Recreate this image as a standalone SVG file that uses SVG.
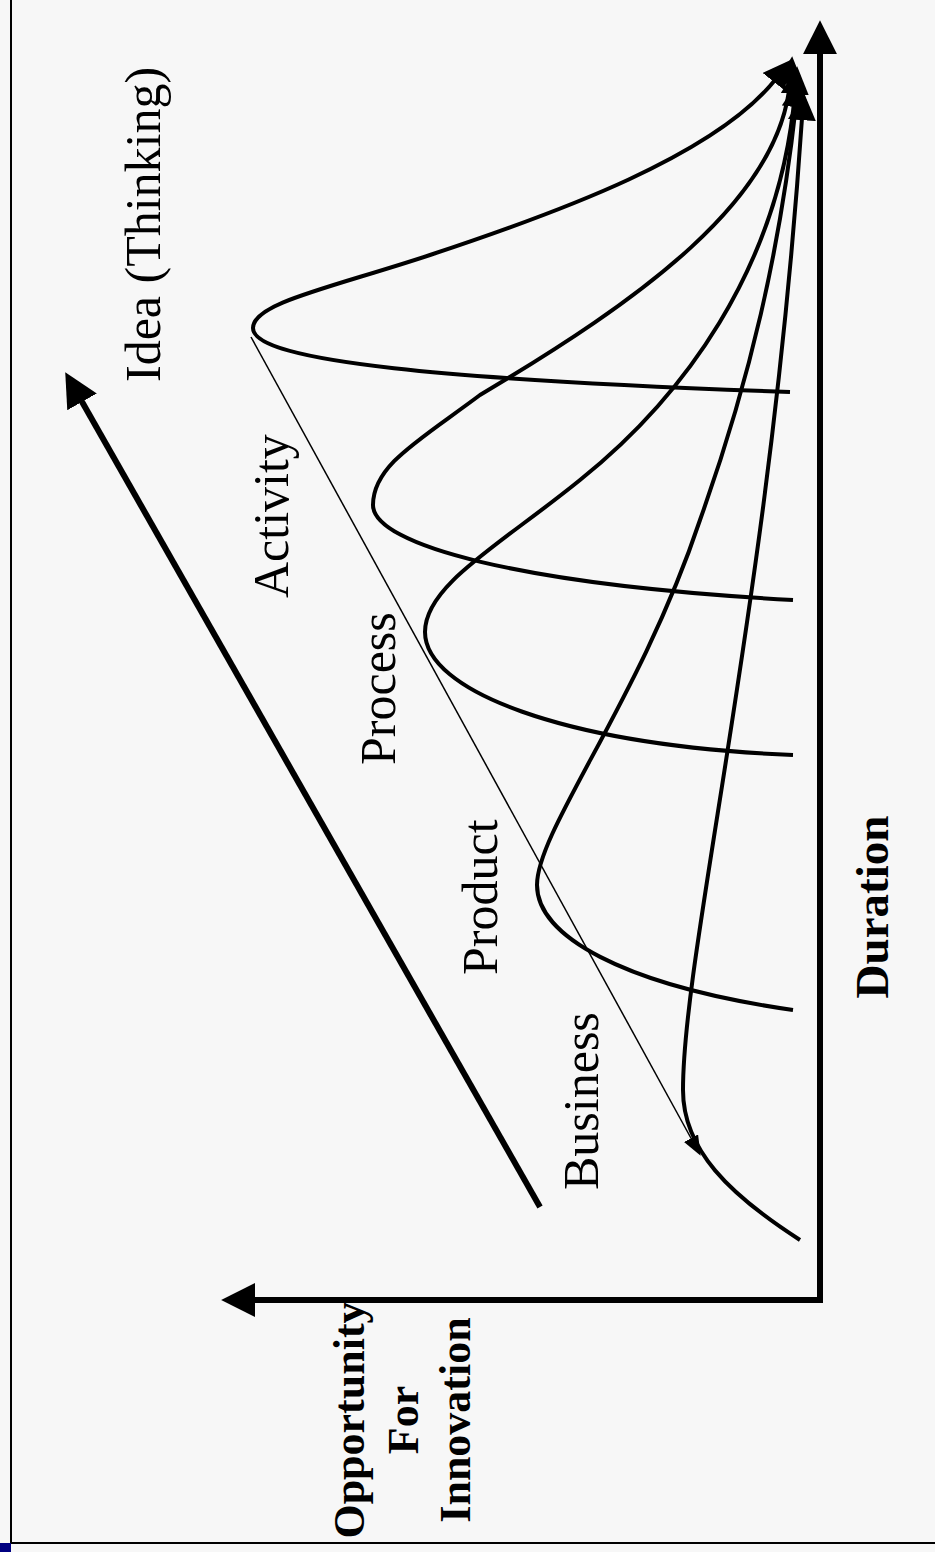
<svg xmlns="http://www.w3.org/2000/svg" width="935" height="1552" viewBox="0 0 935 1552">
<defs>
<style>
.thick{fill:none;stroke:#000;stroke-width:6}
.curve{fill:none;stroke:#000;stroke-width:4}
.thin{fill:none;stroke:#000;stroke-width:1.5}
.lbl{font-family:"Liberation Serif","Times New Roman",serif;font-size:50px;fill:#000}
.blbl{font-family:"Liberation Serif","Times New Roman",serif;font-size:44px;font-weight:bold;fill:#000}
</style>
<marker id="bigArrow" markerUnits="userSpaceOnUse" markerWidth="34" markerHeight="34" viewBox="0 0 32 32" refX="2" refY="16" orient="auto">
<path d="M0,0 L32,16 L0,32 Z" fill="#000"/>
</marker>
<marker id="curveArrow" markerUnits="userSpaceOnUse" markerWidth="28" markerHeight="28" viewBox="0 0 26 26" refX="2" refY="13" orient="auto">
<path d="M0,0 L26,13 L0,26 Z" fill="#000"/>
</marker>
<marker id="thinArrow" markerUnits="userSpaceOnUse" markerWidth="20" markerHeight="16" viewBox="0 0 20 16" refX="2" refY="8" orient="auto">
<path d="M0,0 L20,8 L0,16 Z" fill="#000"/>
</marker>
</defs>
<rect x="0" y="0" width="935" height="1552" fill="#f7f7f7"/>
<g id="frame">
<line x1="11" y1="0" x2="11" y2="1543" stroke="#000" stroke-width="2"/>
<line x1="10" y1="1543" x2="935" y2="1543" stroke="#000" stroke-width="2"/>
<rect x="0" y="1543" width="11" height="9" fill="#000080"/>
</g>
<g id="connectors">
<path class="thick" d="M820,1303 L820,52" marker-end="url(#bigArrow)"/>
<path class="thick" d="M823,1300 L253,1300" marker-end="url(#bigArrow)"/>
<path class="thick" d="M540,1207 L81,400" marker-end="url(#bigArrow)"/>
<path class="thin" d="M251,337 L692,1140" marker-end="url(#thinArrow)"/>
<path id="c-idea" class="curve" d="M790,392 C450,380 253,362 253,328 C253,303 330,288 430,255 C560,212 715,155 775,80" marker-end="url(#curveArrow)"/>
<path id="c-activity" class="curve" d="M793,600 C520,585 373,545 373,505 C373,465 420,440 480,395 C640,300 780,200 790,82" marker-end="url(#curveArrow)"/>
<path id="c-process" class="curve" d="M793,755 C560,745 425,690 425,632 C425,585 500,545 580,480 C680,400 780,270 795,92" marker-end="url(#curveArrow)"/>
<path id="c-product" class="curve" d="M793,1010 C620,985 537,935 537,885 C537,830 640,700 700,520 C750,380 780,250 796,105" marker-end="url(#curveArrow)"/>
<path id="c-business" class="curve" d="M800,1240 C730,1195 683,1150 683,1090 C683,950 770,600 802,118" marker-end="url(#curveArrow)"/>
</g>
<g id="label-idea"><text class="lbl" transform="translate(160,382) rotate(-90)">Idea (Thinking)</text></g>
<g id="label-activity"><text class="lbl" transform="translate(288,598) rotate(-90)">Activity</text></g>
<g id="label-process"><text class="lbl" transform="translate(395,765) rotate(-90)">Process</text></g>
<g id="label-product"><text class="lbl" transform="translate(497,975) rotate(-90)">Product</text></g>
<g id="label-business"><text class="lbl" transform="translate(598,1190) rotate(-90)">Business</text></g>
<g id="label-duration"><text class="blbl" style="font-size:47px" transform="translate(888,907) rotate(-90)" text-anchor="middle">Duration</text></g>
<g id="label-opportunity"><text class="blbl" transform="translate(0,1420) rotate(-90)" text-anchor="middle"><tspan x="0" y="364">Opportunity</tspan><tspan x="0" y="418">For</tspan><tspan x="0" y="470">Innovation</tspan></text></g>
</svg>
